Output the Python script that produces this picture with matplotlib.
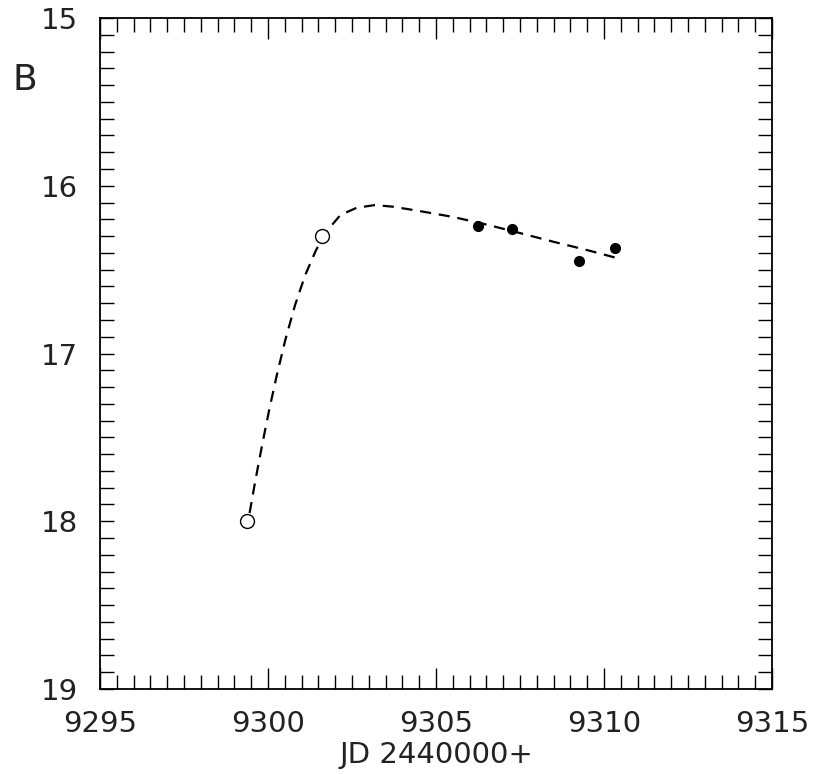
import matplotlib
matplotlib.use("Agg")
import matplotlib.pyplot as plt
from matplotlib.ticker import MultipleLocator

# Data
open_jd = [9299.38, 9301.61]
open_mag = [18.00, 16.30]
filled_jd = [9306.24, 9307.27, 9309.26, 9310.34]
filled_mag = [16.24, 16.26, 16.45, 16.37]
curve_jd = [9299.45, 9299.625, 9299.824, 9300.033, 9300.262, 9300.512, 9300.804,
            9301.107, 9301.429, 9301.774, 9302.155, 9302.64, 9303.18, 9303.73,
            9304.52, 9305.51, 9306.52, 9307.50, 9308.48, 9309.49, 9310.33]
curve_mag = [17.951, 17.754, 17.545, 17.337, 17.128, 16.920, 16.711,
             16.532, 16.383, 16.264, 16.174, 16.131, 16.115, 16.125,
             16.151, 16.186, 16.232, 16.282, 16.333, 16.383, 16.428]
x_ticks = [9295, 9300, 9305, 9310, 9315]
y_ticks = [15, 16, 17, 18, 19]

fig = plt.figure(figsize=(8.14, 7.74), dpi=100)
ax = fig.add_axes([0.1229, 0.1098, 0.8256, 0.8669])

ax.plot(curve_jd, curve_mag, color="black", lw=1.6, ls=(0, (5, 3.5)))
ax.plot(open_jd, open_mag, "o", mfc="white", mec="black", ms=10, mew=1.0, ls="none", zorder=3)
ax.plot(filled_jd, filled_mag, "o", color="black", ms=7, ls="none", zorder=3)

ax.set_xlim(9295, 9315)
ax.set_ylim(19, 15)
ax.set_xticks(x_ticks)
ax.set_yticks(y_ticks)
ax.xaxis.set_minor_locator(MultipleLocator(0.5))
ax.yaxis.set_minor_locator(MultipleLocator(0.1))
ax.tick_params(which="both", direction="in", top=True, right=True, labelsize=21,
               labelcolor="#222222", width=1.0)
ax.tick_params(axis="x", which="major", length=15, pad=15)
ax.tick_params(axis="x", which="minor", length=10)
ax.tick_params(axis="y", which="major", length=10, pad=16)
ax.tick_params(axis="y", which="minor", length=10)
for s in ax.spines.values():
    s.set_linewidth(1.3)

ax.set_xlabel("JD 2440000+", fontsize=21, color="#222222", labelpad=2)
fig.text(25 / 814, 1 - 80 / 774, "B", fontsize=26, color="#222222", ha="center", va="center")

fig.savefig("out.png", dpi=100)
